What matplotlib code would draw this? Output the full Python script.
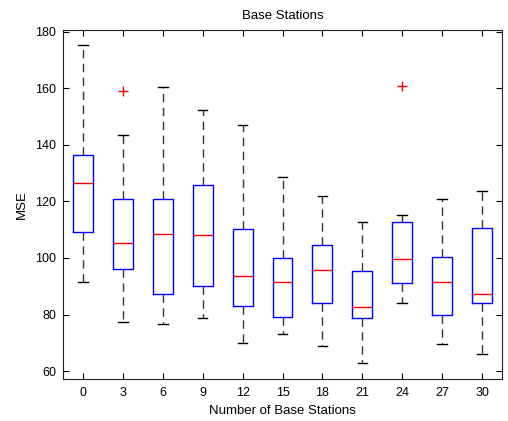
#!/usr/bin/env python3
# Boxplot of MSE vs number of base stations (MATLAB style)

import matplotlib
matplotlib.use('Agg')
import matplotlib.pyplot as plt

stations = ['0', '3', '6', '9', '12', '15', '18', '21', '24', '27', '30']
whislo = [91.6, 77.3, 76.6, 78.6, 69.8, 73.1, 68.8, 62.9, 83.9, 69.4, 65.9]
q1 = [109.3, 96.0, 87.4, 90.0, 83.1, 79.2, 84.2, 78.8, 91.2, 79.8, 84.2]
med = [126.4, 105.2, 108.4, 108.1, 93.6, 91.6, 95.8, 82.5, 99.8, 91.6, 87.1]
q3 = [136.3, 121.0, 120.8, 125.7, 110.2, 100.1, 104.5, 95.4, 112.8, 100.4, 110.5]
whishi = [175.2, 143.4, 160.4, 152.2, 147.0, 128.7, 122.0, 112.8, 115.3, 121.0, 123.8]
outliers = [[], [159.0], [], [], [], [], [], [], [160.9], [], []]

plt.rcParams['font.family'] = ['Liberation Sans', 'DejaVu Sans']
plt.rcParams['font.size'] = 9


def make_plot():
    stats = []
    for i in range(len(stations)):
        stats.append(dict(label=stations[i], whislo=whislo[i], q1=q1[i],
                          med=med[i], q3=q3[i], whishi=whishi[i],
                          fliers=outliers[i]))

    fig = plt.figure(figsize=(5.08, 4.21), dpi=100)
    ax = fig.add_axes([63 / 508, 1 - 379 / 421, 439 / 508, 349 / 421])

    ax.bxp(stats, positions=range(1, len(stations) + 1), widths=0.5,
           capwidths=0.24,
           boxprops=dict(color='blue', linewidth=1.0),
           medianprops=dict(color='red', linewidth=1.0),
           whiskerprops=dict(color='#333333', linewidth=1.0,
                             linestyle=(0, (6, 4))),
           capprops=dict(color='black', linewidth=1.0),
           flierprops=dict(marker='+', markeredgecolor='red',
                           markersize=7, linestyle='none'))

    ax.set_xlim(0.5, 11.5)
    ax.set_ylim(57.2, 180.6)
    ax.set_yticks([60, 80, 100, 120, 140, 160, 180])
    ax.tick_params(direction='in', top=True, right=True, length=4,
                   labelsize=9)
    ax.tick_params(axis='x', pad=6)
    ax.tick_params(axis='y', pad=5)
    for s in ax.spines.values():
        s.set_color('#222222')

    ax.set_title('Base Stations', fontsize=9.5, pad=8)
    ax.set_xlabel('Number of Base Stations', fontsize=9.5, labelpad=4)
    ax.set_ylabel('MSE', fontsize=9.5, labelpad=5)

    fig.savefig('out.png', dpi=100)
    plt.close(fig)


def main():
    make_plot()


if __name__ == "__main__":
    main()
